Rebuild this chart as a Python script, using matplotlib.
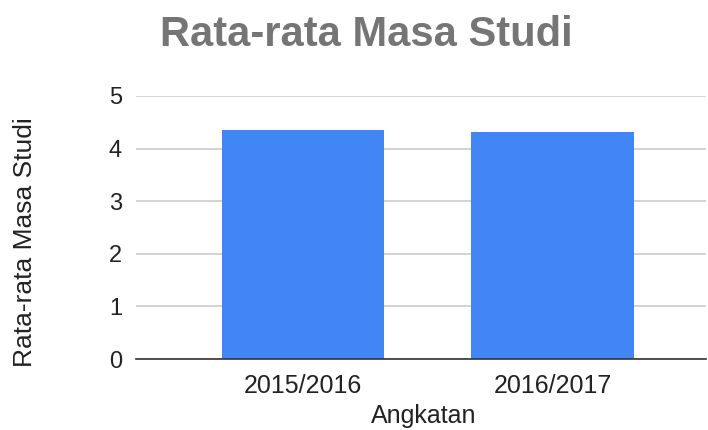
import matplotlib
matplotlib.use("Agg")
import matplotlib.pyplot as plt

categories = ["2015/2016", "2016/2017"]
values = [4.35, 4.32]
yticks = [0, 1, 2, 3, 4, 5]

plt.rcParams['font.family'] = ['Liberation Sans', 'DejaVu Sans']
fig = plt.figure(figsize=(7.08, 4.30), dpi=100)
ax = fig.add_axes([136/708, 1-359/430, 570/708, (359-96)/430])

x = list(range(len(categories)))
ax.bar(x, values, width=0.65, color="#4285f4", zorder=3)
ax.set_xlim(-0.668, 1.614)
ax.set_ylim(0, 5)
ax.set_yticks(yticks)
ax.set_yticklabels([str(t) for t in yticks], fontsize=17, color="#222222")
ax.set_xticks(x)
ax.set_xticklabels(categories, fontsize=18, color="#222222")
ax.tick_params(axis='y', length=0, pad=10)
ax.tick_params(axis='x', length=0, pad=11)
for s in ["top", "right", "left"]:
    ax.spines[s].set_visible(False)
ax.spines["bottom"].set_color("#333333")
ax.spines["bottom"].set_linewidth(1.2)
ax.spines["bottom"].set_zorder(4)
ax.yaxis.grid(True, color="#cccccc", linewidth=1.2, zorder=0)
ax.set_axisbelow(True)
fig.text(424/708, 1-404/430, "Angkatan", fontsize=18, color="#222222", ha="center", va="top")
fig.text(25/708, 1-242/430, "Rata-rata Masa Studi", fontsize=19, color="#222222",
         rotation=90, ha="center", va="center")
fig.text(366/708, 1-35/430, "Rata-rata Masa Studi", fontsize=30, fontweight="bold",
         color="#757575", ha="center", va="center")
fig.savefig("out.png", dpi=100)
